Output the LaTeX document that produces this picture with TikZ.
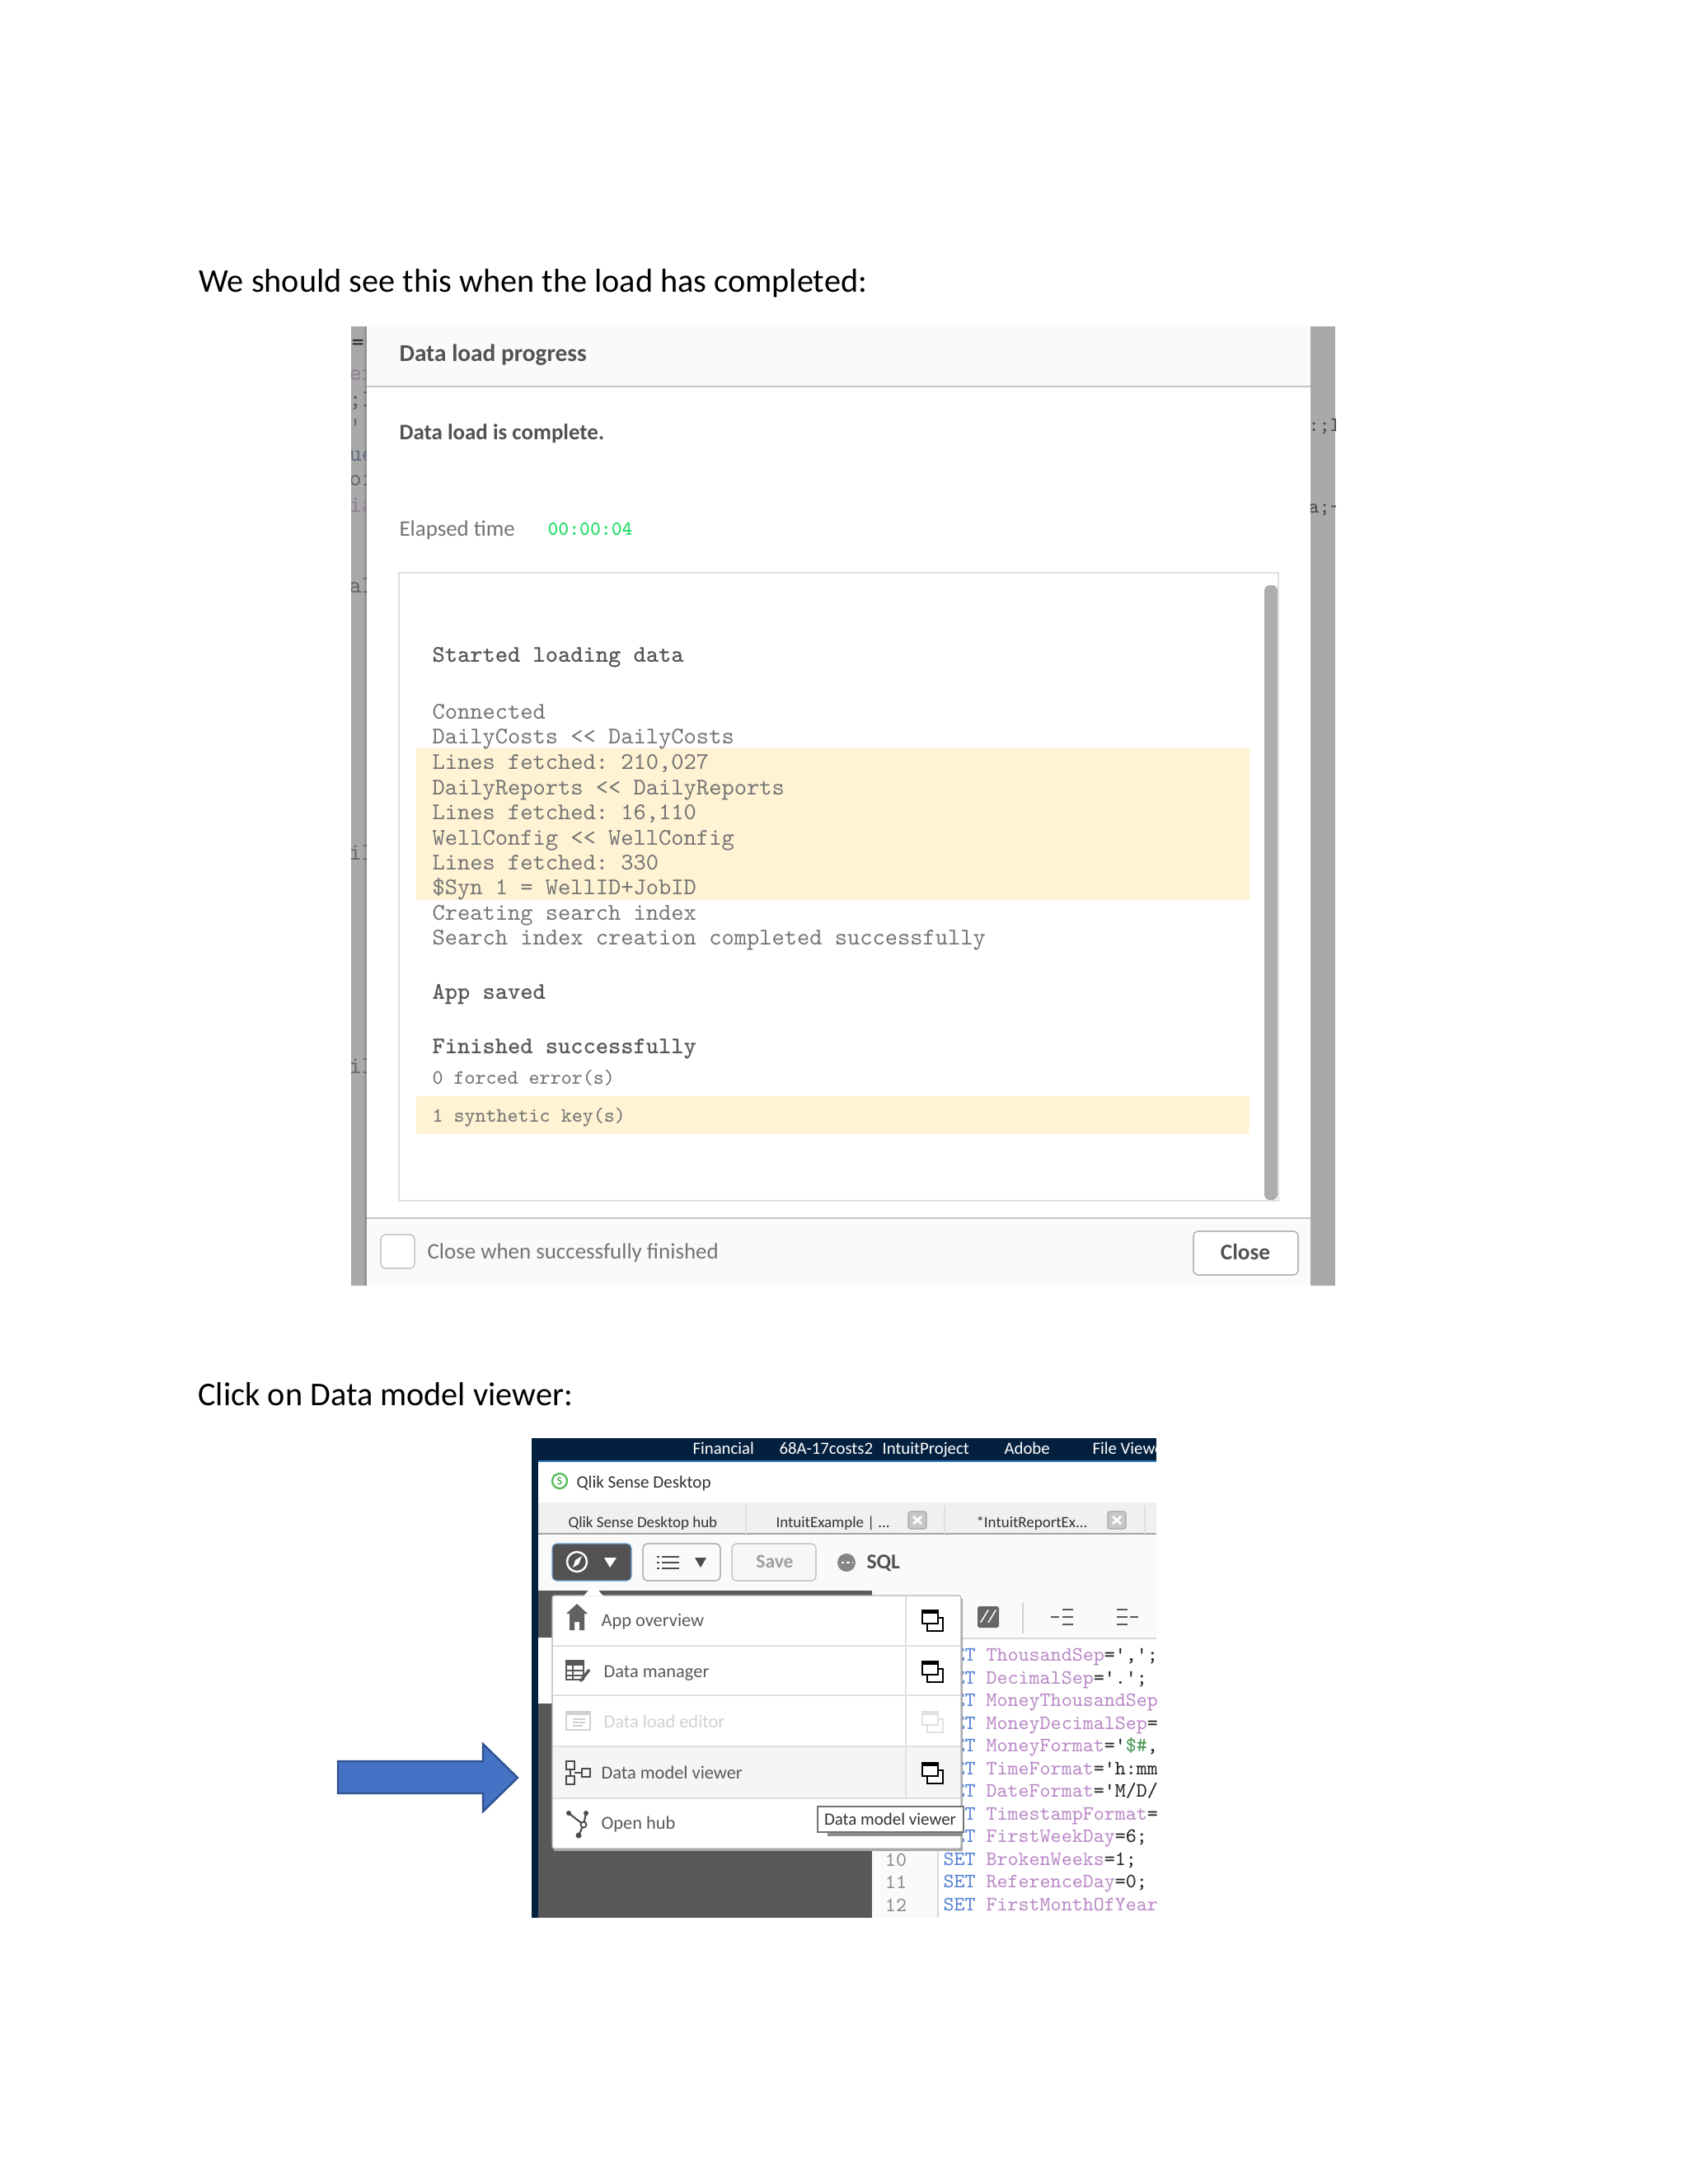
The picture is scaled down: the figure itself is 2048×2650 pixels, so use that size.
\documentclass[tikz,border=0pt]{standalone}
\usepackage{fontspec}
\setmainfont{Carlito}
\frenchspacing
\definecolor{hilite}{HTML}{FFF3D4}
\definecolor{barbg}{HTML}{A9A9A9}
\definecolor{panelbg}{HTML}{FBFAFB}
\definecolor{elapsedgreen}{HTML}{22DD66}
\definecolor{navy}{HTML}{04203F}
\definecolor{winblue}{HTML}{2C7CC4}
\definecolor{darkpane}{HTML}{585858}
\definecolor{keyblue}{HTML}{5A84D6}
\definecolor{varpurple}{HTML}{BC8CC8}
\definecolor{strgreen}{HTML}{4E9A5A}
\definecolor{arrowblue}{HTML}{4472C4}
\definecolor{arrowedge}{HTML}{2F528F}
\begin{document}
\begin{tikzpicture}[x=0.375pt,y=-0.375pt]
  \tikzstyle{txt}=[anchor=west,inner sep=0pt,text height=.7em,text depth=.2em]
  \tikzstyle{heading}=[txt,yshift=-2.5pt,font=\fontsize{15.1}{18}\selectfont,text=black]
  \tikzstyle{dlgbold}=[txt,yshift=-1pt,font=\fontsize{11}{13}\selectfont\bfseries,text=black!68]
  \tikzstyle{dlgtext}=[txt,yshift=-1pt,font=\fontsize{10.1}{13}\selectfont,text=black!55]
  \tikzstyle{logline}=[txt,yshift=-1pt,font=\fontsize{10.9}{13}\selectfont\ttfamily,text=black!55]
  \tikzstyle{logbold}=[txt,yshift=-1pt,font=\fontsize{10.9}{13}\selectfont\ttfamily\bfseries,text=black!66]
  \tikzstyle{logsmall}=[txt,font=\fontsize{9.3}{11}\selectfont\ttfamily,text=black!55]
  \tikzstyle{behind}=[txt,font=\fontsize{10.9}{13}\selectfont\ttfamily]
  \tikzstyle{behindr}=[txt,font=\fontsize{9.3}{11}\selectfont\ttfamily,text=black!70]
  \tikzstyle{taskbar}=[txt,yshift=-.3pt,font=\fontsize{7.8}{10}\selectfont,text=white]
  \tikzstyle{tabtext}=[txt,yshift=-.2pt,font=\fontsize{7.1}{10}\selectfont,text=black!80]
  \tikzstyle{menutext}=[txt,yshift=-.4pt,font=\fontsize{8.4}{11}\selectfont,text=black!65]
  \tikzstyle{codeline}=[txt,font=\fontsize{9.3}{11}\selectfont\ttfamily,text=black!85]
  \tikzstyle{lineno}=[inner sep=0pt,font=\fontsize{9.3}{11}\selectfont\ttfamily,text=black!45]
  \tikzstyle{graybtn}=[draw=black!28,fill=black!3,rounded corners=2pt]
  \tikzstyle{menuline}=[draw=black!12]
  \tikzset{winicon/.pic={
    \draw[draw=#1,fill=white,line width=.4pt] (-6,-3) rectangle (13,13);
    \draw[draw=#1,fill=white,line width=.4pt] (-12,-12) rectangle (7,4);
    \fill[#1] (-12,-12) rectangle (7,-8);},
    winicon/.default=black!45}
  \useasboundingbox (0,0) rectangle (2048,2650);
  \node[heading] (loadtitle) at (241,341) {We should see this when the load has completed:};
  \node[heading] (clicktitle) at (240,1692) {Click on Data model viewer:};

  \fill[barbg] (426,396) rectangle (445,1560);
  \fill[black!42] (442,396) rectangle (445,1560);
  \fill[barbg] (1590,396) rectangle (1620,1560);
  \begin{scope}
    \clip (426,396) rectangle (444,1560);
    \node[behind,text=black!85] (barequal) at (426,418) {=};
    \node[behind,text=varpurple!50!black!70] (barex) at (423,455) {ex};
    \node[behind,text=black!65] (barsemi) at (423,487) {;I};
    \node[behind,text=black!60] (barquote) at (423,520) {',};
    \node[behind,text=keyblue!35!black!70] (barue) at (423,553) {ue};
    \node[behind,text=black!60] (baroi) at (423,583) {oi};
    \node[behind,text=varpurple!50!black!70] (baria) at (423,615) {ia};
    \node[behind,text=black!60] (baral) at (423,713) {al};
    \node[behind,text=black!60] (baril) at (423,1037) {il};
    \node[behind,text=black!60] (barilb) at (423,1296) {il};
  \end{scope}
  \begin{scope}
    \clip (1590,396) rectangle (1620,1560);
    \node[behindr] (barsemir) at (1587,517) {:;I};
    \node[behindr] (bardash) at (1587,616) {a;-};
  \end{scope}

  \fill[white] (445,396) rectangle (1590,1560);
  \fill[panelbg] (445,396) rectangle (1590,469);
  \fill[panelbg] (445,1478) rectangle (1590,1560);
  \draw[black!22,line width=.9pt] (445,469) -- (1590,469);
  \draw[black!22,line width=.9pt] (445,1478) -- (1590,1478);
  \node[dlgbold] (progress) at (484,429) {Data load progress};
  \node[dlgbold,font=\fontsize{10.1}{13}\selectfont\bfseries] (complete) at (484,524) {Data load is complete.};
  \node[dlgtext] (elapsed) at (484,641) {Elapsed time};
  \node[txt,yshift=-.6pt,font=\fontsize{9.2}{13}\selectfont\ttfamily\bfseries,text=elapsedgreen] (elapsedval) at (664,641) {00:00:04};
  \draw[black!12,line width=.8pt] (484,695) rectangle (1551,1457);
  \fill[black!32,rounded corners=2.5pt] (1534,710) rectangle (1550,1456);
  \fill[hilite] (505,908) rectangle (1516,1092);
  \fill[hilite] (505,1330) rectangle (1516,1376);
  \node[logbold] (started) at (524,794) {Started loading data};
  \node[logline] (connected) at (524,863) {Connected};
  \node[logline] (costs) at (524,893) {DailyCosts << DailyCosts};
  \node[logline] (costslines) at (524,924) {Lines fetched: 210,027};
  \node[logline] (reports) at (524,955) {DailyReports << DailyReports};
  \node[logline] (reportslines) at (524,985) {Lines fetched: 16,110};
  \node[logline] (config) at (524,1016) {WellConfig << WellConfig};
  \node[logline] (configlines) at (524,1046) {Lines fetched: 330};
  \node[logline] (syn) at (524,1076) {\$Syn 1 = WellID+JobID};
  \node[logline] (creating) at (524,1107) {Creating search index};
  \node[logline] (searchdone) at (524,1137) {Search index creation completed successfully};
  \node[logbold] (saved) at (524,1203) {App saved};
  \node[logbold] (finished) at (524,1269) {Finished successfully};
  \node[logsmall] (forced) at (524,1309) {0 forced error(s)};
  \node[logsmall] (synthetic) at (524,1355) {1 synthetic key(s)};
  \draw[black!30,fill=white,rounded corners=2pt] (462,1498) rectangle (503,1539);
  \node[dlgtext] (closewhen) at (518,1518) {Close when successfully finished};
  \draw[black!40,fill=white,rounded corners=2pt] (1448,1494) rectangle (1575,1547);
  \node[dlgbold,anchor=center,font=\fontsize{10.2}{13}\selectfont\bfseries] (closebtn) at (1511,1519) {Close};

  \fill[navy] (645,1745) rectangle (1403,1773);
  \fill[navy] (645,1745) rectangle (653,2327);
  \draw[winblue,line width=.8pt] (653,1773) -- (1403,1773);
  \fill[white] (653,1774) rectangle (1403,1823);
  \fill[black!6] (653,1823) rectangle (1403,1861);
  \fill[black!2] (653,1861) rectangle (1403,1930);
  \draw[black!35,line width=.8pt] (653,1861) -- (1403,1861);
  \draw[black!12] (905,1827) -- (905,1861) (1146,1827) -- (1146,1861) (1389,1827) -- (1389,1861);
  \begin{scope}
    \clip (645,1745) rectangle (1403,1773);
    \node[taskbar] (financial) at (840,1757) {Financial};
    \node[taskbar] (costs2) at (945,1757) {68A-17costs2};
    \node[taskbar] (intuitproj) at (1070,1757) {IntuitProject};
    \node[taskbar] (adobe) at (1218,1757) {Adobe};
    \node[taskbar] (fileview) at (1325,1757) {File Viewe};
  \end{scope}
  \draw[green!60!black!70,line width=.8pt] (679,1797) circle (9);
  \node[inner sep=0pt,font=\fontsize{5}{6}\selectfont,text=green!60!black] (qlikicon) at (679,1797) {S};
  \node[tabtext,font=\fontsize{7.9}{10}\selectfont] (qliktitle) at (699,1798) {Qlik Sense Desktop};
  \node[tabtext] (hubtab) at (689,1846) {Qlik Sense Desktop hub};
  \node[tabtext] (exampletab) at (941,1846) {IntuitExample | ...};
  \node[tabtext] (reporttab) at (1184,1846) {*IntuitReportEx...};
  \draw[black!35,fill=black!22,rounded corners=1pt] (1102,1834) rectangle (1124,1855);
  \draw[white,line width=1pt] (1108,1840) -- (1118,1849) (1118,1840) -- (1108,1849);
  \draw[black!35,fill=black!22,rounded corners=1pt] (1344,1834) rectangle (1366,1855);
  \draw[white,line width=1pt] (1350,1840) -- (1360,1849) (1360,1840) -- (1350,1849);

  \draw[winblue!70,fill=black!68,rounded corners=2pt] (670,1873) rectangle (766,1918);
  \draw[white,line width=.9pt] (700,1895) circle (12);
  \fill[white] (706,1888) -- (702,1898) -- (695,1902) -- (698,1893) -- cycle;
  \fill[white] (733,1890) -- (748,1890) -- (740,1902) -- cycle;
  \draw[black!40,fill=black!2,rounded corners=2pt] (780,1873) rectangle (874,1918);
  \draw[black!70,line width=1pt] (803,1889) -- (824,1889) (803,1896) -- (824,1896) (803,1903) -- (824,1903);
  \draw[black!70,line width=1pt] (797,1889) -- (800,1889) (797,1896) -- (800,1896) (797,1903) -- (800,1903);
  \fill[black!70] (843,1890) -- (857,1890) -- (850,1902) -- cycle;
  \draw[graybtn] (888,1873) rectangle (990,1918);
  \node[inner sep=0pt,font=\fontsize{8.8}{11}\selectfont\bfseries,text=black!38] (savebtn) at (940,1895) {Save};
  \fill[black!48] (1027,1896) circle (11);
  \draw[white,line width=.6pt,dash pattern=on 1.2pt off 1.2pt] (1021,1896) -- (1034,1896);
  \node[txt,yshift=-.6pt,font=\fontsize{9.6}{11}\selectfont\bfseries,text=black!68] (sqllabel) at (1051,1895) {SQL};

  \fill[darkpane] (653,1930) rectangle (1058,2327);
  \fill[white] (653,1987) rectangle (670,2067);
  \fill[white] (1058,1930) rectangle (1403,2327);
  \fill[black!2] (1058,1930) rectangle (1403,1988);
  \fill[black!2] (1058,1988) rectangle (1138,2327);
  \draw[black!15] (1058,1988) -- (1403,1988) (1138,1988) -- (1138,2327);
  \draw[black!18] (1241,1945) -- (1241,1982);
  \fill[black!60,rounded corners=1pt] (1186,1949) rectangle (1212,1975);
  \node[inner sep=0pt,font=\fontsize{8}{10}\selectfont\bfseries\itshape,text=white] (commenticon) at (1199,1962) {//};
  \draw[black!65,line width=1pt] (1289,1953) -- (1302,1953) (1289,1962) -- (1302,1962) (1289,1971) -- (1302,1971) (1275,1962) -- (1285,1962);
  \draw[black!65,line width=1pt] (1355,1953) -- (1368,1953) (1355,1962) -- (1368,1962) (1355,1971) -- (1368,1971) (1371,1962) -- (1381,1962);
  \begin{scope}
    \clip (1058,1990) rectangle (1403,2327);
    \node[codeline] (code1) at (1144,2009) {\textcolor{keyblue}{SET} \textcolor{varpurple}{ThousandSep}=',';};
    \node[codeline] (code2) at (1144,2037) {\textcolor{keyblue}{SET} \textcolor{varpurple}{DecimalSep}='.';};
    \node[codeline] (code3) at (1144,2064) {\textcolor{keyblue}{SET} \textcolor{varpurple}{MoneyThousandSep}};
    \node[codeline] (code4) at (1144,2092) {\textcolor{keyblue}{SET} \textcolor{varpurple}{MoneyDecimalSep}=};
    \node[codeline] (code5) at (1144,2119) {\textcolor{keyblue}{SET} \textcolor{varpurple}{MoneyFormat}='\textcolor{strgreen}{\$\#},};
    \node[codeline] (code6) at (1144,2147) {\textcolor{keyblue}{SET} \textcolor{varpurple}{TimeFormat}='h:mm};
    \node[codeline] (code7) at (1144,2174) {\textcolor{keyblue}{SET} \textcolor{varpurple}{DateFormat}='M/D/};
    \node[codeline] (code8) at (1144,2202) {\textcolor{keyblue}{SET} \textcolor{varpurple}{TimestampFormat}=};
    \node[codeline] (code9) at (1144,2229) {\textcolor{keyblue}{SET} \textcolor{varpurple}{FirstWeekDay}=6;};
    \node[codeline] (code10) at (1144,2257) {\textcolor{keyblue}{SET} \textcolor{varpurple}{BrokenWeeks}=1;};
    \node[codeline] (code11) at (1144,2284) {\textcolor{keyblue}{SET} \textcolor{varpurple}{ReferenceDay}=0;};
    \node[codeline] (code12) at (1144,2312) {\textcolor{keyblue}{SET} \textcolor{varpurple}{FirstMonthOfYear}};
  \end{scope}
  \node[lineno] (num10) at (1087,2257) {10};
  \node[lineno] (num11) at (1087,2284) {11};
  \node[lineno] (num12) at (1087,2312) {12};

  \fill[black!35] (672,1940) rectangle (1168,2246);
  \draw[black!30,fill=white,rounded corners=1pt] (670,1936) rectangle (1166,2243);
  \fill[white] (708,1936.5) -- (720,1923) -- (732,1936.5) -- cycle;
  \fill[black!4] (671,2119) rectangle (1165,2182);
  \draw[menuline] (671,1997) -- (1165,1997) (671,2057) -- (1165,2057) (671,2119) -- (1165,2119) (671,2182) -- (1165,2182);
  \draw[menuline] (1099,1937) -- (1099,2182);
  \fill[black!62] (713,1958) -- (700,1946) -- (687,1958) -- (691,1958) -- (691,1978) -- (697,1978) -- (697,1968) -- (703,1968) -- (703,1978) -- (709,1978) -- (709,1958) -- cycle;
  \node[menutext] (appoverview) at (729,1966) {App overview};
  \draw[black!65,fill=white,line width=.7pt] (687,2015) rectangle (708,2038);
  \fill[black!65] (687,2015) rectangle (708,2021);
  \draw[black!65,line width=.6pt] (687,2027) -- (708,2027) (687,2033) -- (708,2033) (695,2021) -- (695,2038);
  \draw[black!65,line width=1.3pt] (704,2040) -- (715,2026);
  \node[menutext] (datamanager) at (732,2028) {Data manager};
  \draw[black!18,line width=.7pt] (687,2077) rectangle (716,2099);
  \fill[black!18] (687,2077) rectangle (716,2081);
  \draw[black!18,line width=.6pt] (695,2086) -- (710,2086) (695,2090) -- (710,2090) (695,2094) -- (707,2094);
  \node[menutext,text=black!18] (dataload) at (732,2089) {Data load editor};
  \draw[black!70,line width=.9pt] (687,2137) rectangle (697,2147) (687,2155) rectangle (697,2165) (706,2146) rectangle (716,2156);
  \draw[black!70,line width=.7pt] (692,2147) -- (692,2155) (697,2151) -- (706,2151);
  \node[menutext] (datamodel) at (729,2151) {Data model viewer};
  \draw[black!70,line width=.8pt] (690,2200) -- (708,2214) -- (702,2227) (711,2200) -- (708,2214);
  \fill[black!70] (690,2200) circle (3) (711,2200) circle (3) (702,2227) circle (3.5);
  \draw[black!70,fill=white,line width=.7pt] (708,2214) circle (3.5);
  \node[menutext] (openhub) at (729,2212) {Open hub};
  \pic at (1131,1966) {winicon};
  \pic at (1131,2028) {winicon};
  \pic at (1131,2089) {winicon=black!12};
  \pic at (1131,2151) {winicon};
  \pic at (1131,2212) {winicon};
  \fill[black!45] (1004,2223) rectangle (1168,2228);
  \draw[black!55,fill=white,line width=.7pt] (992,2192) rectangle (1169,2223);
  \node[inner sep=0pt,font=\fontsize{7.85}{10}\selectfont,text=black!80] (tooltip) at (1080,2207) {Data model viewer};

  \draw[arrowedge,fill=arrowblue,line width=.9pt] (410,2137) -- (586,2137) -- (586,2116) -- (628,2157) -- (586,2198) -- (586,2176) -- (410,2176) -- cycle;
\end{tikzpicture}
\end{document}
